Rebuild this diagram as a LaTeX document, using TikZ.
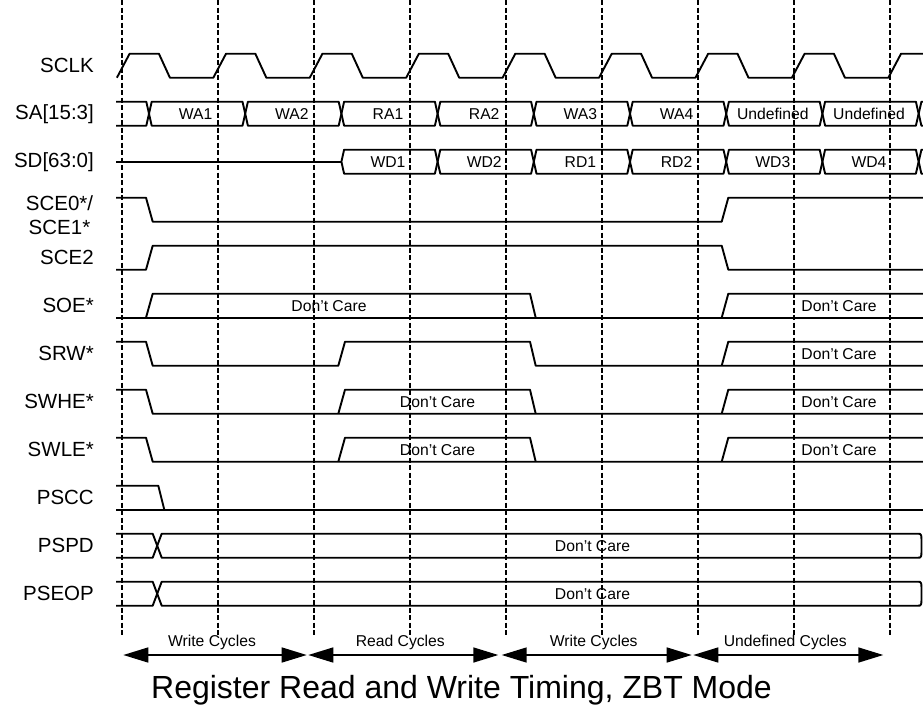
\documentclass[tikz,border=0pt]{standalone}
\usepackage{fontspec}
\setmainfont{Liberation Sans}
\usetikzlibrary{arrows.meta}

\tikzset{
  sig/.style={line width=1.9pt, line join=round},
  grid/.style={line width=2pt, dash pattern=on 5pt off 2.5pt},
  siglabel/.style={anchor=east, inner sep=0pt, font=\fontsize{20.5}{24}\selectfont},
  val/.style={inner sep=0pt, font=\fontsize{15.7}{18}\selectfont},
  span/.style={line width=1.5pt, {Triangle[length=25pt,width=15pt]}-{Triangle[length=25pt,width=15pt]}},
}

\begin{document}
\begin{tikzpicture}[x=1pt,y=-1pt]
    \useasboundingbox (0,0) rectangle (923,720);
    % clock edges
    \foreach \i in {0,...,8}
      \draw[grid] (122.3+96*\i,0) -- (122.3+96*\i,636);

    % signal names
    \node[siglabel] (l-sclk) at (94,65.7) {SCLK};
    \node[siglabel] (l-sa) at (94,113.7) {SA[15:3]};
    \node[siglabel] (l-sd) at (94,161.7) {SD[63:0]};
    \node[siglabel, anchor=center, align=center] (l-sce0) at (59.5,215.5) {SCE0*/\\SCE1*};
    \node[siglabel] (l-sce2) at (94,257.7) {SCE2};
    \node[siglabel] (l-soe) at (94,305.7) {SOE*};
    \node[siglabel] (l-srw) at (94,353.7) {SRW*};
    \node[siglabel] (l-swhe) at (94,401.7) {SWHE*};
    \node[siglabel] (l-swle) at (94,449.7) {SWLE*};
    \node[siglabel] (l-pscc) at (94,497.7) {PSCC};
    \node[siglabel] (l-pspd) at (94,545.7) {PSPD};
    \node[siglabel] (l-pseop) at (94,593.7) {PSEOP};

    % SCLK
    \draw[sig] (116.9,77.7) \foreach \k in {0,...,7} { -- ++(12.7,-24) -- ++(29.3,0) -- ++(11,24) -- ++(43.43,0) } -- ++(12.7,-24) -- (923,53.7);

    % SA[15:3]
    \draw[sig] (116,101.7) -- (146.3,101.7) -- (149,113.7) -- (146.3,125.7) -- (116,125.7);
    \foreach \lab [count=\k] in {WA1,WA2,RA1,RA2,WA3,WA4,Undefined,Undefined} {
      \pgfmathsetmacro{\xa}{149+96.2*(\k-1)}
      \pgfmathsetmacro{\xb}{149+96.2*\k}
      \draw[sig] (\xa,113.7) -- (\xa+2.7,101.7) -- (\xb-2.7,101.7) -- (\xb,113.7) -- (\xb-2.7,125.7) -- (\xa+2.7,125.7) -- cycle;
      \node[val] (sa\k) at ({(\xa+\xb)/2-1.5},113.7) {\lab};
    }
    \draw[sig] (923,101.7) -- (921.4,101.7) -- (918.7,113.7) -- (921.4,125.7) -- (923,125.7);

    % SD[63:0]
    \draw[sig] (116,161.7) -- (341.4,161.7);
    \foreach \lab [count=\k from 3] in {WD1,WD2,RD1,RD2,WD3,WD4} {
      \pgfmathsetmacro{\xa}{149+96.2*(\k-1)}
      \pgfmathsetmacro{\xb}{149+96.2*\k}
      \draw[sig] (\xa,161.7) -- (\xa+2.7,149.7) -- (\xb-2.7,149.7) -- (\xb,161.7) -- (\xb-2.7,173.7) -- (\xa+2.7,173.7) -- cycle;
      \node[val] (sd\k) at ({(\xa+\xb)/2-1.5},161.7) {\lab};
    }
    \draw[sig] (923,149.7) -- (921.4,149.7) -- (918.7,161.7) -- (921.4,173.7) -- (923,173.7);

    % SCE0*/SCE1*
    \draw[sig] (116,197.7) -- (146,197.7) -- (152.7,221.7) -- (721.7,221.7) -- (728.3,197.7) -- (923,197.7);

    % SCE2
    \draw[sig] (116,269.7) -- (146,269.7) -- (152.7,245.7) -- (721.7,245.7) -- (728.3,269.7) -- (923,269.7);

    % SOE*
    \draw[sig] (116,317.7) -- (923,317.7);
    \draw[sig] (146,317.7) -- (152.7,293.7) -- (530,293.7) -- (535.7,317.7);
    \draw[sig] (721.7,317.7) -- (728.3,293.7) -- (923,293.7);
    \node[val] (soe-dc1) at (329,305.7) {Don't Care};
    \node[val] (soe-dc2) at (839,305.7) {Don't Care};

    % SRW*
    \draw[sig] (116,341.7) -- (146,341.7) -- (152.7,365.7) -- (338.3,365.7) -- (345,341.7) -- (530,341.7) -- (535.7,365.7) -- (923,365.7);
    \draw[sig] (721.7,365.7) -- (728.3,341.7) -- (923,341.7);
    \node[val] (srw-dc) at (839,353.7) {Don't Care};

    % SWHE*
    \draw[sig] (116,389.7) -- (146,389.7) -- (152.7,413.7) -- (923,413.7);
    \draw[sig] (338.3,413.7) -- (345,389.7) -- (530,389.7) -- (535.7,413.7);
    \draw[sig] (721.7,413.7) -- (728.3,389.7) -- (923,389.7);
    \node[val] (swhe-dc1) at (437.5,401.7) {Don't Care};
    \node[val] (swhe-dc2) at (839,401.7) {Don't Care};

    % SWLE*
    \draw[sig] (116,437.7) -- (146,437.7) -- (152.7,461.7) -- (923,461.7);
    \draw[sig] (338.3,461.7) -- (345,437.7) -- (530,437.7) -- (535.7,461.7);
    \draw[sig] (721.7,461.7) -- (728.3,437.7) -- (923,437.7);
    \node[val] (swle-dc1) at (437.5,449.7) {Don't Care};
    \node[val] (swle-dc2) at (839,449.7) {Don't Care};

    % PSCC
    \draw[sig] (116,485.7) -- (158.3,485.7) -- (164.3,509.7);
    \draw[sig] (116,509.7) -- (923,509.7);

    % PSPD and PSEOP
    \foreach \yc/\n in {545.7/pspd, 593.7/pseop} {
      \draw[sig] (116,\yc-12) -- (152.7,\yc-12) -- (157.2,\yc) -- (152.7,\yc+12) -- (116,\yc+12);
      \draw[sig] (157.2,\yc) -- (161.7,\yc-12) -- (918,\yc-12) .. controls (921.5,\yc-12) .. (921.5,\yc) .. controls (921.5,\yc+12) .. (918,\yc+12) -- (161.7,\yc+12) -- cycle;
      \node[val] (\n-dc) at (592.5,\yc) {Don't Care};
    }

    % cycle spans
    \foreach \a/\b/\lab/\n in {123.3/306.7/Write Cycles/wr1, 308.3/498.3/Read Cycles/rd, 501.7/691.7/Write Cycles/wr2, 693.3/883.3/Undefined Cycles/und} {
      \coordinate (\n-l) at (\a,655);
      \coordinate (\n-r) at (\b,655);
      \draw[span] (\n-l) -- (\n-r);
      \node[val, anchor=base] (\n) at ({(\a+\b)/2-3},646.5) {\lab};
    }

    \node[anchor=base, inner sep=0pt, font=\fontsize{32}{38}\selectfont] (title) at (461.5,698.3) {Register Read and Write Timing, ZBT Mode};
\end{tikzpicture}
\end{document}
